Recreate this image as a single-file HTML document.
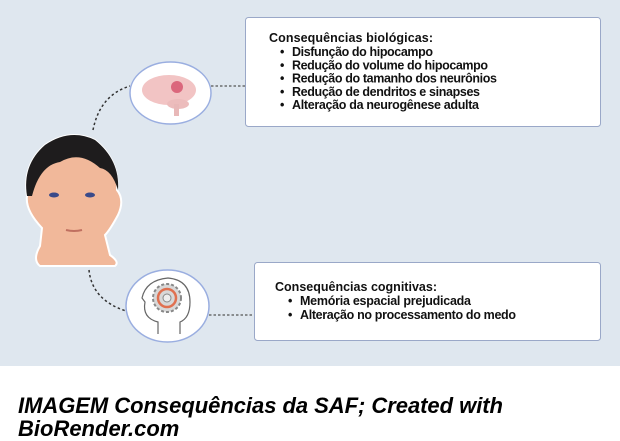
<!DOCTYPE html>
<html><head><meta charset="utf-8"><style>
html,body{margin:0;padding:0;background:#fff;width:620px;height:441px;overflow:hidden}
svg{display:block}
text{font-family:"Liberation Sans",Arial,sans-serif}
.b{font-size:12.5px;font-weight:bold;fill:#111}
</style></head><body>
<svg width="620" height="441" viewBox="0 0 620 441">
<rect x="0" y="0" width="620" height="366" fill="#dfe7ef"/>
<path d="M93 130 Q100 95 130 86" fill="none" stroke="#333" stroke-width="1.5" stroke-dasharray="2.5,2.5"/>
<path d="M89 270 Q92 300 126 311" fill="none" stroke="#333" stroke-width="1.5" stroke-dasharray="2.5,2.5"/>
<line x1="211" y1="86" x2="245" y2="86" stroke="#555" stroke-width="1.2" stroke-dasharray="2.5,2"/>
<line x1="209" y1="315" x2="254" y2="315" stroke="#555" stroke-width="1.2" stroke-dasharray="2.5,2"/>
<rect x="245.5" y="17.5" width="355" height="109" rx="3" fill="#fff" stroke="#9aa8c8"/>
<rect x="254.5" y="262.5" width="346" height="78" rx="3" fill="#fff" stroke="#9aa8c8"/>
<ellipse cx="170.5" cy="93" rx="40.5" ry="31" fill="#fff" stroke="#9aaee0" stroke-width="1.5"/>
<ellipse cx="167.5" cy="306" rx="41.5" ry="36" fill="#fff" stroke="#9aaee0" stroke-width="1.5"/>
<ellipse cx="169" cy="90" rx="27" ry="15" fill="#f2c4c4"/>
<ellipse cx="178" cy="104" rx="11" ry="5" fill="#ecbcbc"/>
<rect x="174" y="104" width="5" height="12" fill="#e8b8b8"/>
<circle cx="177" cy="87" r="6" fill="#d4506a" opacity="0.8"/>
<path d="M158 334 L158 322 Q142 318 145 302 L142 298 Q146 280 168 278 Q190 280 190 302 Q190 318 180 322 L180 334" fill="none" stroke="#666" stroke-width="1.2"/>
<circle cx="167" cy="298" r="14" fill="#d8d8d8" stroke="#888" stroke-dasharray="3,2" stroke-width="2"/>
<circle cx="167" cy="298" r="9" fill="none" stroke="#e07050" stroke-width="2.5"/>
<circle cx="167" cy="298" r="4" fill="#eee" stroke="#888"/>
<path d="M40 246 L42 228 Q25 210 27 196 Q22 165 45 145 Q70 128 95 140 Q120 160 117 190 Q125 200 118 215 Q110 230 105 235 L110 255 Q120 262 115 266 L40 266 Q32 260 40 246Z" fill="#f1b89a" stroke="#fff" stroke-width="2"/>
<path d="M27 196 Q22 165 45 145 Q70 128 95 140 Q120 160 118 190 Q112 170 100 168 Q80 150 60 162 Q40 165 32 196Z" fill="#1e1c1d"/>
<ellipse cx="54" cy="195" rx="5" ry="2.5" fill="#3a4a8a"/>
<ellipse cx="90" cy="195" rx="5" ry="2.5" fill="#3a4a8a"/>
<path d="M66 230 Q74 232 82 230" stroke="#c07060" stroke-width="2" fill="none"/>
<text class="b" x="269" y="42" textLength="164">Consequências  biológicas:</text>
<g class="b">
<text x="280" y="56">•</text><text x="292" y="56" textLength="141">Disfunção do hipocampo</text>
<text x="280" y="69.3">•</text><text x="292" y="69.3" textLength="196">Redução do volume do hipocampo</text>
<text x="280" y="82.6">•</text><text x="292" y="82.6" textLength="205">Redução do tamanho dos neurônios</text>
<text x="280" y="95.9">•</text><text x="292" y="95.9" textLength="188">Redução de dendritos e sinapses</text>
<text x="280" y="109.2">•</text><text x="292" y="109.2" textLength="187">Alteração da neurogênese adulta</text>
</g>
<text class="b" x="275" y="291" textLength="162">Consequências cognitivas:</text>
<g class="b">
<text x="288" y="305">•</text><text x="300" y="305" textLength="171">Memória espacial prejudicada</text>
<text x="288" y="319">•</text><text x="300" y="319" textLength="216">Alteração no processamento do medo</text>
</g>
<text x="18" y="413" textLength="485" style="font-size:22px;font-weight:bold;font-style:italic" fill="#000">IMAGEM Consequências da SAF; Created with</text>
<text x="18" y="436" style="font-size:22px;font-weight:bold;font-style:italic" fill="#000">BioRender.com</text>
</svg>
</body></html>
